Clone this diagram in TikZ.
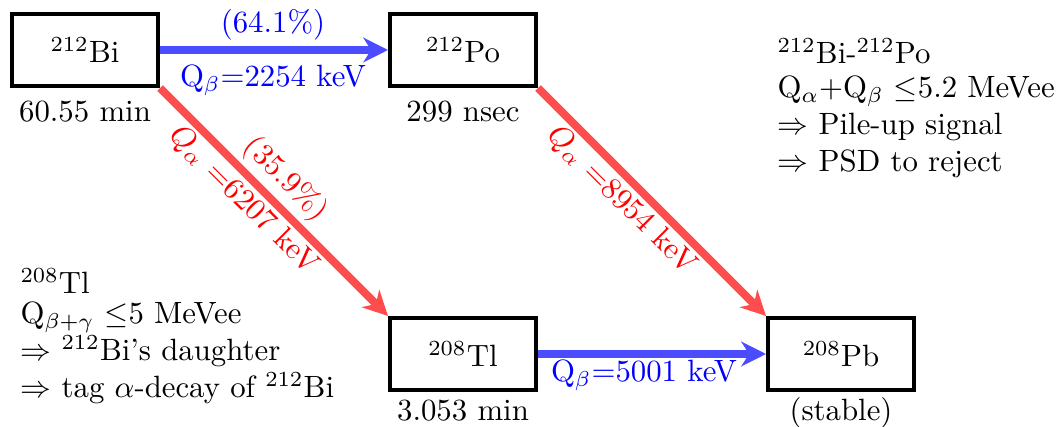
\documentclass[tikz,border=0pt]{standalone}
\usepackage{amssymb}
\usetikzlibrary{arrows.meta}
\begin{document}
\begin{tikzpicture}[x=0.3247pt,y=-0.3247pt,
  nuc/.style={draw, line width=1.3pt, minimum width=47.4pt, minimum height=23.4pt, inner sep=0pt},
  tipstyle/.style={-{Stealth[length=8pt,width=8pt,inset=2.5pt]}},
  barrow/.style={draw=blue!70, line width=2.6pt, tipstyle},
  rarrow/.style={draw=red!70, line width=2.6pt, tipstyle},
  blbl/.style={blue, anchor=base, inner sep=0pt},
  rlbl/.style={red, sloped},
  note/.style={anchor=base west, inner sep=0pt},
  half/.style={anchor=base, inner sep=0pt}]
\useasboundingbox (0,0) rectangle (1058,427);
\node[nuc] (bi) at (85,50) {$^{212}$Bi};
\node[nuc] (po) at (463,50) {$^{212}$Po};
\node[nuc] (tl) at (463,354) {$^{208}$Tl};
\node[nuc] (pb) at (841,354) {$^{208}$Pb};

\draw[barrow] (bi.east) -- (po.west);
\node[blbl] (b1) at (273,33) {(64.1\%)};
\node[blbl] (b2) at (273,87) {Q$_\beta$=2254 keV};
\draw[barrow] (tl.east) -- (pb.west);
\node[blbl] (b3) at (644,382) {Q$_\beta$=5001 keV};

\draw[rarrow] (bi.south east) --
  node[rlbl, pos=0.475, above, inner sep=1.5pt] (r1) {(35.9\%)}
  node[rlbl, pos=0.43, below, inner sep=1pt] (r2) {$Q_\alpha$ =6207 keV}
  (tl.north west);
\draw[rarrow] (po.south east) --
  node[rlbl, pos=0.43, below, inner sep=1pt] (r3) {$Q_\alpha$ =8954 keV}
  (pb.north west);

\node[half] (t1) at (85,122) {60.55 min};
\node[half] (t2) at (463,122) {299 nsec};
\node[half] (t3) at (463,421) {3.053 min};
\node[half] (t4) at (841,421) {(stable)};

\node[note] (n1a) at (777,64) {$^{212}$Bi-$^{212}$Po};
\node[note] (n1b) at (777,98) {Q$_\alpha$+Q$_\beta$ $\leq$5.2 MeVee};
\node[note] (n1c) at (777,135) {$\Rightarrow$ Pile-up signal};
\node[note] (n1d) at (777,172) {$\Rightarrow$ PSD to reject};

\node[note] (n2a) at (20,294) {$^{208}$Tl};
\node[note] (n2b) at (20,324) {Q$_{\beta+\gamma}$ $\leq$5 MeVee};
\node[note] (n2c) at (20,361) {$\Rightarrow$ $^{212}$Bi's daughter};
\node[note] (n2d) at (20,398) {$\Rightarrow$ tag $\alpha$-decay of $^{212}$Bi};
\end{tikzpicture}
\end{document}
